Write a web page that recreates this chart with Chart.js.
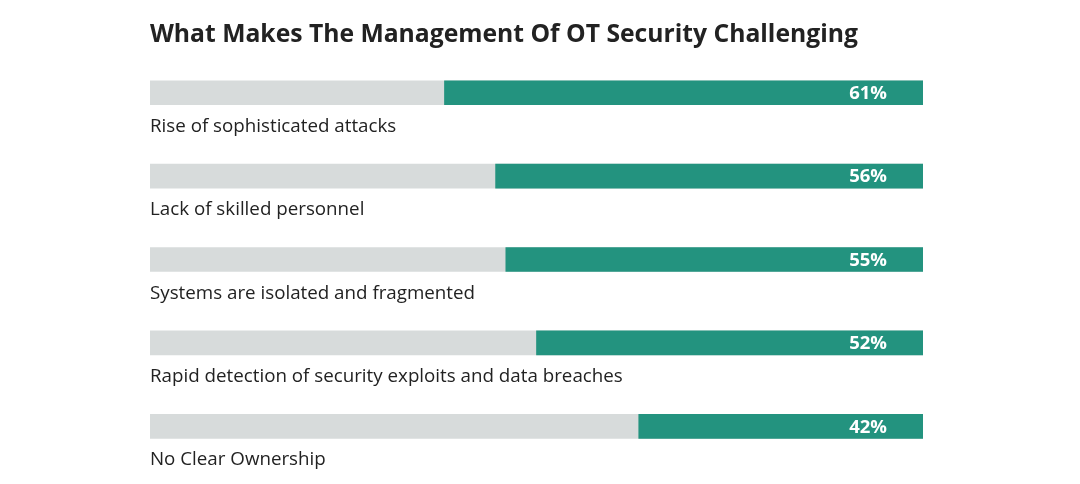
<!DOCTYPE html>
<html>
<head>
<meta charset="utf-8">
<script src="https://cdn.jsdelivr.net/npm/chart.js@4.4.1/dist/chart.umd.min.js"></script>
<style>
  html, body { margin: 0; padding: 0; background: #ffffff; }
  #wrap { width: 1080px; height: 484px; }
</style>
</head>
<body>
<div id="wrap"><canvas id="c" width="1080" height="484"></canvas></div>
<script>
const titleText = 'What Makes The Management Of OT Security Challenging';
const categories = [
  'Rise of sophisticated attacks',
  'Lack of skilled personnel',
  'Systems are isolated and fragmented',
  'Rapid detection of security exploits and data breaches',
  'No Clear Ownership'
];
const percentValues = [61, 56, 55, 52, 42];
const axisMin = 14.2;
const axisMax = 89.8;
const trackValues = [axisMax, axisMax, axisMax, axisMax, axisMax];

const FONT = "'Open Sans', 'Noto Sans', sans-serif";
const TEAL = '#23937f';
const GREY = '#d7dbdb';
const TEXT = '#222222';

const labelPlugin = {
  id: 'barLabels',
  afterDatasetsDraw(chart) {
    const ctx = chart.ctx;
    const area = chart.chartArea;
    const meta = chart.getDatasetMeta(0);
    ctx.save();
    meta.data.forEach((bar, i) => {
      const y = bar.y;
      ctx.font = "bold 18.5px " + FONT;
      ctx.fillStyle = '#ffffff';
      ctx.textAlign = 'right';
      ctx.textBaseline = 'middle';
      ctx.fillText(percentValues[i] + '%', area.right - 36, y + 1);
      ctx.font = "18.75px " + FONT;
      ctx.fillStyle = TEXT;
      ctx.textAlign = 'left';
      ctx.textBaseline = 'alphabetic';
      ctx.fillText(categories[i], area.left, y + 39);
    });
    ctx.restore();
  }
};

new Chart(document.getElementById('c'), {
  type: 'bar',
  data: {
    labels: categories,
    datasets: [
      {
        label: 'Share',
        data: percentValues,
        backgroundColor: TEAL,
        borderWidth: 0,
        barThickness: 24,
        grouped: false
      },
      {
        label: 'Track',
        data: trackValues,
        backgroundColor: GREY,
        borderWidth: 0,
        barThickness: 24,
        grouped: false
      }
    ]
  },
  options: {
    indexAxis: 'y',
    responsive: false,
    animation: false,
    layout: { padding: { left: 150, right: 157, top: 0, bottom: 16 } },
    scales: {
      x: {
        min: axisMin, max: axisMax, reverse: true,
        display: false,
        grid: { display: false }
      },
      y: {
        display: false,
        grid: { display: false }
      }
    },
    plugins: {
      legend: { display: false },
      tooltip: { enabled: false },
      title: {
        display: true,
        text: titleText,
        align: 'start',
        color: TEXT,
        font: { family: FONT, size: 24.7, weight: 'bold' },
        padding: { top: 20, bottom: 1.4 }
      }
    }
  },
  plugins: [labelPlugin]
});
</script>
</body>
</html>
